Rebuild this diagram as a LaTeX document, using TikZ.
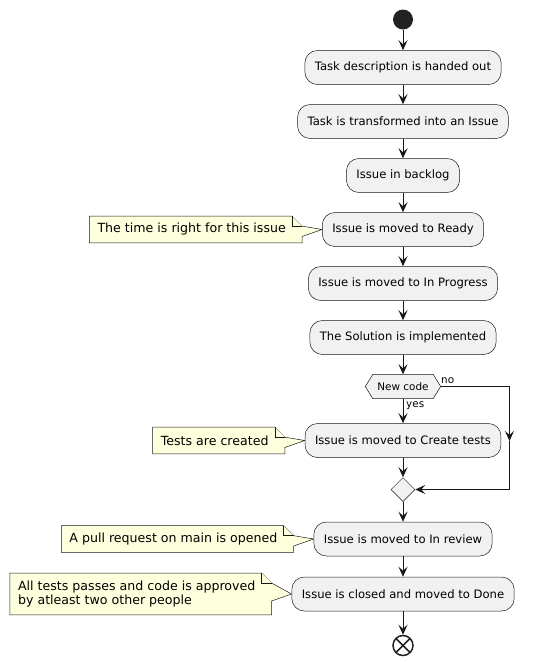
\documentclass[tikz,border=0pt]{standalone}
\usepackage{fontspec}
\setmainfont{DejaVu Sans}
\usetikzlibrary{arrows.meta,shapes.geometric,backgrounds}
\definecolor{boxfill}{HTML}{F1F1F1}
\definecolor{ink}{HTML}{181818}
\definecolor{notefill}{HTML}{FEFFDD}
\definecolor{startfill}{HTML}{222222}
\newcommand\drawnotebox[2]{%
  \filldraw[noteshape] ([xshift=-8pt]#1.north west) -- ([xshift=6pt]#1.north east)
    -- ([xshift=16pt,yshift=-10pt]#1.north east) -- (#2.west)
    -- ([xshift=16pt,yshift=-7pt]#1.east) -- ([xshift=16pt]#1.south east)
    -- ([xshift=-8pt]#1.south west) -- cycle;
  \draw[noteshape] ([xshift=6pt]#1.north east) -- ([xshift=6pt,yshift=-10pt]#1.north east)
    -- ([xshift=16pt,yshift=-10pt]#1.north east);}
\begin{document}
\begin{tikzpicture}[x=1pt,y=-1pt,
  act/.style={draw=ink, line width=0.5pt, fill=boxfill, rounded corners=12.5pt,
    minimum height=34pt, inner xsep=10pt, inner ysep=0pt,
    font=\fontsize{11.6}{14}\selectfont},
  notetext/.style={inner sep=0pt, align=left, anchor=east,
    font=\fontsize{12.6}{14.5}\selectfont},
  noteshape/.style={draw=ink, line width=0.5pt, fill=notefill, line join=miter},
  flow/.style={draw=ink, line width=1pt, -{Stealth[length=10pt,width=9pt,inset=4pt]}},
  startc/.style={circle, fill=startfill, minimum size=20pt, inner sep=0pt},
  endc/.style={circle, draw=startfill, line width=1.5pt, minimum size=20pt, inner sep=0pt},
  endx/.style={draw=startfill, line width=1.5pt},
  decis/.style={minimum width=60pt, minimum height=24pt, inner sep=0pt,
    font=\fontsize{10.4}{12}\selectfont},
  hexshape/.style={draw=ink, line width=0.5pt, fill=boxfill},
  merge/.style={diamond, aspect=1, draw=ink, line width=0.5pt, fill=boxfill,
    minimum width=24pt, minimum height=24pt, inner sep=0pt},
  lbl/.style={inner sep=0pt, font=\fontsize{10.4}{12}\selectfont}
]
\useasboundingbox (0,0) rectangle (534,662);
\node[startc] (start) at (403,19.5) {};
\node[act] (a1) at (403,67.5) {Task description is handed out};
\node[act] (a2) at (403,121.5) {Task is transformed into an Issue};
\node[act] (a3) at (403,175.5) {Issue in backlog};
\node[act] (a4) at (403,229.5) {Issue is moved to Ready};
\node[act] (a5) at (403,283.5) {Issue is moved to In Progress};
\node[act] (a6) at (403,337.5) {The Solution is implemented};
\node[decis] (dec) at (403,386.5) {New code};
\node[act] (a7) at (403,440.5) {Issue is moved to Create tests};
\node[merge] (m) at (403,489.5) {};
\node[act] (a8) at (403,539) {Issue is moved to In review};
\node[act] (a9) at (403,594) {Issue is closed and moved to Done};
\node[endc] (end) at (403,645.5) {};
\draw[endx] ([shift={(45:10pt)}]end.center) -- ([shift={(225:10pt)}]end.center);
\draw[endx] ([shift={(135:10pt)}]end.center) -- ([shift={(315:10pt)}]end.center);

\node[notetext, minimum height=26.3pt] (n1) at ([xshift=-36pt]a4.west) {The time is right for this issue};
\node[notetext, minimum height=26.3pt] (n2) at ([xshift=-36pt]a7.west) {Tests are created};
\node[notetext, minimum height=26.3pt] (n3) at ([xshift=-36pt]a8.west) {A pull request on main is opened};
\node[notetext, minimum height=41.5pt] (n4) at ([xshift=-36pt]a9.west) {All tests passes and code is approved\\by atleast two other people};

\begin{scope}[on background layer]
  \filldraw[hexshape] (dec.north west) -- (dec.north east) -- ([xshift=7.5pt]dec.east)
    -- (dec.south east) -- (dec.south west) -- ([xshift=-7.5pt]dec.west) -- cycle;
  \drawnotebox{n1}{a4}
  \drawnotebox{n2}{a7}
  \drawnotebox{n3}{a8}
  \drawnotebox{n4}{a9}
\end{scope}

\coordinate (decR) at ([xshift=7.5pt]dec.east);
\coordinate (nA) at (509.5,386.5);
\coordinate (nMid) at (509.5,441);
\coordinate (nB) at (509.5,489.5);

\draw[flow] (start) -- (a1);
\draw[flow] (a1) -- (a2);
\draw[flow] (a2) -- (a3);
\draw[flow] (a3) -- (a4);
\draw[flow] (a4) -- (a5);
\draw[flow] (a5) -- (a6);
\draw[flow] (a6) -- (dec);
\draw[flow] (dec) -- (a7);
\node[lbl, anchor=west] (yes) at (406,405.5) {yes};
\draw[flow] (decR) -- (nA) -- (nMid);
\draw[flow] (nMid) -- (nB) -- (m);
\node[lbl, anchor=west] (no) at (441,380.5) {no};
\draw[flow] (a7) -- (m);
\draw[flow] (m) -- (a8);
\draw[flow] (a8) -- (a9);
\draw[flow] (a9) -- (end);
\end{tikzpicture}
\end{document}
